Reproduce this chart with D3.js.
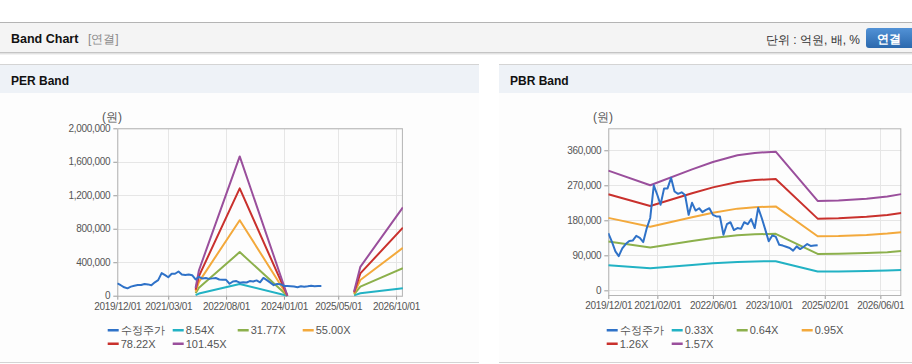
<!DOCTYPE html>
<html>
<head>
<meta charset="utf-8">
<script src="https://cdn.jsdelivr.net/npm/d3@7"></script>
<style>
  body { margin: 0; background: #fff; }
  svg { display: block; font-family: "Liberation Sans", Arial, sans-serif; }
</style>
</head>
<body>
<svg id="page" width="912" height="364"></svg>
<script>
// ---- data ----
// monthly adjusted close, 2019/12 .. 2024/12
const priceStart = "2019-12-01";
const priceValues = [
  147000, 125000, 100000, 88000, 108000, 119000, 127000, 128000, 140000, 135000,
  124000, 160000, 186000, 270000, 245000, 220000, 262000, 262000, 289000, 254000,
  248000, 252000, 245000, 194000, 225000, 205000, 211000, 201000, 207000, 211000,
  194000, 190000, 190000, 143000, 170000, 175000, 155000, 160000, 158000, 175000,
  170000, 183000, 160000, 212000, 186000, 156000, 126000, 141000, 138000, 117000,
  115000, 112000, 109000, 102000, 113000, 106000, 112000, 119000, 114000, 115000,
  116000
];

// PER band (null = no band drawn)
const perBandDates = ["2021-11-01", "2021-12-01", "2022-12-01", "2024-02-01", "2024-03-01", "2025-09-20", "2025-11-15", "2026-12-01"];
const per854 = [7700, 25600, 140000, 0, null, 4300, 29000, 88800];
const per3177 = [28600, 95300, 521000, 0, null, 15900, 108000, 330000];
const per5500 = [49500, 165000, 902000, 0, null, 27500, 187000, 572000];
const per7822 = [70400, 234700, 1283000, 0, null, 39100, 266000, 813500];
const per10145 = [91300, 304000, 1664000, 0, null, 50700, 345000, 1055000];
const perLabels = ["8.54X", "31.77X", "55.00X", "78.22X", "101.45X"];
const perTicks = [0, 400000, 800000, 1200000, 1600000, 2000000];
const perDateTicks = ["2019-12-01", "2021-03-01", "2022-08-01", "2024-01-01", "2025-05-01", "2026-10-01"];

// PBR band
const pbrBandDates = ["2019-12-01", "2020-12-01", "2021-12-01", "2022-06-01", "2023-01-01", "2023-06-01", "2023-12-01", "2024-12-01", "2025-06-01", "2026-02-01", "2026-08-01", "2026-12-01"];
const pbr033 = [64700, 56800, 65300, 69300, 72900, 74300, 74900, 48300, 48500, 49500, 50700, 52000];
const pbr064 = [125400, 110100, 126700, 134400, 141400, 144000, 145300, 93600, 94100, 96000, 98200, 100800];
const pbr095 = [186200, 163400, 188100, 199500, 210000, 213800, 215700, 139000, 139700, 142500, 145800, 149600];
const pbr126 = [247000, 216700, 249500, 264600, 278500, 283500, 286000, 184300, 185200, 189000, 193400, 198500];
const pbr157 = [307700, 270000, 310900, 329700, 347000, 353300, 356400, 229700, 230800, 235500, 241000, 247300];
const pbrLabels = ["0.33X", "0.64X", "0.95X", "1.26X", "1.57X"];
const pbrTicks = [0, 90000, 180000, 270000, 360000];
const pbrDateTicks = ["2019-12-01", "2021-02-01", "2022-06-01", "2023-10-01", "2025-02-01", "2026-06-01"];

const priceLabel = "수정주가";
const bandColors = ["#22b2c4", "#8cb04c", "#f3a93c", "#c9312d", "#9a4f9c"];
const priceColor = "#2f72c8";

// ---- page ----
const parse = d3.timeParse("%Y-%m-%d");
const svg = d3.select("#page");
const font = "\"Liberation Sans\", Arial, sans-serif";

// top header bar
svg.append("rect").attr("x", 0).attr("y", 22).attr("width", 912).attr("height", 31).attr("fill", "#f4f4f4");
svg.append("line").attr("x1", 0).attr("x2", 912).attr("y1", 22.5).attr("y2", 22.5).attr("stroke", "#b4b4b4");
svg.append("line").attr("x1", 0).attr("x2", 912).attr("y1", 52.5).attr("y2", 52.5).attr("stroke", "#c4c4c4");
svg.append("line").attr("x1", 0).attr("x2", 912).attr("y1", 53.5).attr("y2", 53.5).attr("stroke", "#e2e2e2");
svg.append("line").attr("x1", 0).attr("x2", 912).attr("y1", 54.5).attr("y2", 54.5).attr("stroke", "#f2f2f2");
svg.append("text").attr("x", 11).attr("y", 43).attr("font-size", "12.5px").attr("font-weight", "bold")
  .attr("fill", "#111").text("Band Chart");
svg.append("text").attr("x", 88).attr("y", 43).attr("font-size", "12px").attr("fill", "#8a8a8a").text("[연결]");
svg.append("text").attr("x", 860).attr("y", 44).attr("text-anchor", "end").attr("font-size", "12px")
  .attr("fill", "#333").text("단위 : 억원, 배, %");

const grad = svg.append("defs").append("linearGradient").attr("id", "btn").attr("x1", 0).attr("x2", 0).attr("y1", 0).attr("y2", 1);
grad.append("stop").attr("offset", 0).attr("stop-color", "#5292d6");
grad.append("stop").attr("offset", 1).attr("stop-color", "#2b68ad");
svg.append("rect").attr("x", 866).attr("y", 28).attr("width", 52).attr("height", 20).attr("rx", 3)
  .attr("fill", "url(#btn)");
svg.append("text").attr("x", 889).attr("y", 42.5).attr("text-anchor", "middle").attr("font-size", "12px")
  .attr("font-weight", "bold").attr("fill", "#fff").text("연결");

function drawPanel(cfg) {
  const g = svg.append("g");
  // panel frame
  g.append("rect").attr("x", cfg.px).attr("y", 64).attr("width", cfg.pw).attr("height", 298).attr("fill", "#fdfdfd");
  g.append("rect").attr("x", cfg.px).attr("y", 64).attr("width", cfg.pw).attr("height", 29).attr("fill", "#eef2f7");
  g.append("line").attr("x1", cfg.px).attr("x2", cfg.px + cfg.pw).attr("y1", 64.5).attr("y2", 64.5).attr("stroke", "#d4d4d4");
  g.append("line").attr("x1", cfg.px).attr("x2", cfg.px + cfg.pw).attr("y1", 362.5).attr("y2", 362.5).attr("stroke", "#d4d4d4");
  g.append("text").attr("x", cfg.px + 11).attr("y", 85).attr("font-size", "12px").attr("font-weight", "bold")
    .attr("fill", "#111").text(cfg.title);

  const x = d3.scaleTime().domain([parse("2019-12-01"), parse("2026-12-01")]).range([cfg.left, cfg.right]);
  const y = d3.scaleLinear().domain(cfg.yDomain).range([cfg.bottom, cfg.top]);

  // grid
  g.append("g").selectAll("line").data(cfg.yTicks).join("line")
    .attr("x1", cfg.left).attr("x2", cfg.right)
    .attr("y1", (d) => Math.round(y(d)) + 0.5).attr("y2", (d) => Math.round(y(d)) + 0.5)
    .attr("stroke", "#e6e6e6");
  g.append("g").selectAll("line").data(cfg.xTicks.map(parse)).join("line")
    .attr("x1", (d) => Math.round(x(d)) + 0.5).attr("x2", (d) => Math.round(x(d)) + 0.5)
    .attr("y1", cfg.top).attr("y2", cfg.bottom)
    .attr("stroke", "#e6e6e6");

  // axes
  const yAxis = g.append("g").attr("transform", `translate(${cfg.left},0)`)
    .call(d3.axisLeft(y).tickValues(cfg.yTicks).tickSize(4).tickPadding(3).tickFormat(d3.format(",")));
  const xAxis = g.append("g").attr("transform", `translate(0,${cfg.bottom})`)
    .call(d3.axisBottom(x).tickValues(cfg.xTicks.map(parse)).tickSize(4).tickPadding(3)
      .tickFormat(d3.timeFormat("%Y/%m/%d")));
  [yAxis, xAxis].forEach((a) => {
    a.select(".domain").remove();
    a.selectAll(".tick line").attr("stroke", "#9a9a9a");
    a.selectAll("text").attr("fill", "#555").attr("font-family", font).attr("font-size", "10px")
      .attr("letter-spacing", "-0.3px");
  });

  g.append("rect").attr("x", cfg.left + 0.5).attr("y", cfg.top + 0.5)
    .attr("width", cfg.right - cfg.left - 1).attr("height", cfg.bottom - cfg.top)
    .attr("fill", "none").attr("stroke", "#b4b4b4");

  g.append("text").attr("x", cfg.unitX).attr("y", 121).attr("text-anchor", "middle")
    .attr("font-size", "12px").attr("fill", "#555").text("(원)");

  // lines
  const clipId = "clip-" + cfg.title.replace(/\s/g, "");
  svg.append("clipPath").attr("id", clipId).append("rect")
    .attr("x", cfg.left).attr("y", cfg.top).attr("width", cfg.right - cfg.left).attr("height", cfg.bottom - cfg.top + 2);
  const plot = g.append("g").attr("clip-path", `url(#${clipId})`);

  const line = d3.line().defined((d) => d.v != null).x((d) => x(d.date)).y((d) => y(d.v));
  const bandDates = cfg.bandDates.map(parse);
  cfg.bands.forEach((vals, i) => {
    plot.append("path")
      .datum(vals.map((v, j) => ({ date: bandDates[j], v })))
      .attr("fill", "none").attr("stroke", bandColors[i]).attr("stroke-width", 2)
      .attr("stroke-linejoin", "round").attr("d", line);
  });
  const p0 = parse(priceStart);
  plot.append("path")
    .datum(priceValues.map((v, j) => ({ date: d3.timeMonth.offset(p0, j), v })))
    .attr("fill", "none").attr("stroke", priceColor).attr("stroke-width", 2)
    .attr("stroke-linejoin", "round").attr("d", line);

  // legend
  const items = [{ label: priceLabel, color: priceColor }]
    .concat(cfg.labels.map((l, i) => ({ label: l, color: bandColors[i] })));
  const lg = g.append("g").selectAll("g").data(items).join("g")
    .attr("transform", (d, i) => `translate(${cfg.legendX + (i % 4) * 65},${330 + Math.floor(i / 4) * 13.5})`);
  lg.append("rect").attr("x", 0).attr("y", -1).attr("width", 11).attr("height", 2.5).attr("fill", (d) => d.color);
  lg.append("text").attr("x", 13).attr("y", 4).attr("font-size", "11px").attr("fill", "#555")
    .text((d) => d.label);
}

drawPanel({
  title: "PER Band", px: 0, pw: 479,
  left: 117.3, right: 402.9, top: 128.3, bottom: 295.7,
  yDomain: [0, 2000000], yTicks: perTicks, xTicks: perDateTicks,
  bandDates: perBandDates, bands: [per854, per3177, per5500, per7822, per10145],
  labels: perLabels, unitX: 112, legendX: 107.7
});

drawPanel({
  title: "PBR Band", px: 499, pw: 413,
  left: 608.3, right: 901.3, top: 128.3, bottom: 295,
  yDomain: [-12000, 416500], yTicks: pbrTicks, xTicks: pbrDateTicks,
  bandDates: pbrBandDates, bands: [pbr033, pbr064, pbr095, pbr126, pbr157],
  labels: pbrLabels, unitX: 603, legendX: 606.7
});
</script>
</body>
</html>
